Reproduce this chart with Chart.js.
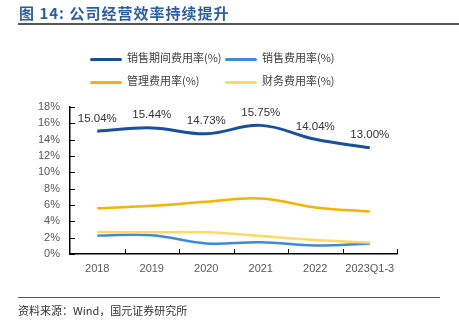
<!DOCTYPE html>
<html>
<head>
<meta charset="utf-8">
<script src="https://cdn.jsdelivr.net/npm/chart.js@4.4.0/dist/chart.umd.min.js"></script>
<style>
  html, body { margin: 0; padding: 0; background: #fff; }
  #wrap { position: relative; width: 459px; height: 324px; overflow: hidden; font-family: "Noto Sans CJK SC", sans-serif; }
  #title { position: absolute; left: 19px; top: 2px; font-size: 15px; font-weight: bold; color: #2a5ea8; letter-spacing: 1px; white-space: nowrap; }
  #topRule { position: absolute; left: 18px; right: 0; top: 23px; height: 2px; background: #555; }
  #bottomRule { position: absolute; left: 18px; width: 422px; top: 297px; height: 1px; background: #555; }
  #source { position: absolute; left: 18px; top: 302px; font-size: 11px; color: #333; white-space: nowrap; }
  .leg { position: absolute; font-size: 11px; color: #404040; white-space: nowrap; line-height: 14px; }
  .leg i { display: inline-block; width: 32px; height: 3px; vertical-align: middle; margin-right: 5px; border-radius: 2px; }
  canvas { position: absolute; left: 0; top: 0; }
</style>
</head>
<body>
<div id="wrap">
  <canvas id="effChart" width="459" height="324"></canvas>
  <div id="title">图 14:  公司经营效率持续提升</div>
  <div id="topRule"></div>
  <div id="legend"></div>
  <div id="bottomRule"></div>
  <div id="source">资料来源：Wind，国元证券研究所</div>
</div>
<script>
  var years = ['2018', '2019', '2020', '2021', '2022', '2023Q1-3'];
  var periodRate = [15.04, 15.44, 14.73, 15.75, 14.04, 13.00];
  var salesRate = [2.25, 2.3, 1.3, 1.45, 1.05, 1.3];
  var adminRate = [5.6, 5.9, 6.4, 6.8, 5.7, 5.2];
  var financeRate = [2.7, 2.65, 2.65, 2.2, 1.7, 1.4];
  var yTicks = [0, 2, 4, 6, 8, 10, 12, 14, 16, 18];

  var series = [
    { label: '销售期间费用率(%)', data: periodRate, color: '#1b4f9c', width: 3, x: 90, y: 50 },
    { label: '销售费用率(%)', data: salesRate, color: '#3f89d6', width: 2.5, x: 225, y: 50 },
    { label: '管理费用率(%)', data: adminRate, color: '#f4b400', width: 2.5, x: 90, y: 73 },
    { label: '财务费用率(%)', data: financeRate, color: '#ffd966', width: 2.5, x: 225, y: 73 }
  ];

  // legend in two rows
  var legendBox = document.getElementById('legend');
  series.forEach(function (s) {
    var d = document.createElement('div');
    d.className = 'leg';
    d.style.left = s.x + 'px';
    d.style.top = s.y + 'px';
    d.innerHTML = '<i style="background:' + s.color + '"></i>' + s.label;
    legendBox.appendChild(d);
  });

  // datasets go in reverse so the main line is drawn on top
  var datasets = series.map(function (s) {
    return {
      label: s.label,
      data: s.data,
      borderColor: s.color,
      backgroundColor: s.color,
      borderWidth: s.width,
      pointRadius: 0,
      tension: 0.4,
      fill: false
    };
  }).reverse();
  var mainIndex = datasets.length - 1;

  // inward tick marks on both axes
  var innerTicks = {
    id: 'innerTicks',
    afterDraw: function (chart) {
      var c = chart.ctx, xs = chart.scales.x, ys = chart.scales.y;
      c.save();
      c.strokeStyle = '#000';
      c.lineWidth = 1;
      c.beginPath();
      ys.ticks.forEach(function (t, i) {
        var py = Math.round(ys.getPixelForTick(i)) + 0.5;
        c.moveTo(ys.right, py);
        c.lineTo(ys.right + 5, py);
      });
      for (var i = 0; i < years.length; i++) {
        var px = i < years.length - 1
          ? (xs.getPixelForValue(i) + xs.getPixelForValue(i + 1)) / 2
          : xs.right;
        px = Math.round(px) + 0.5;
        c.moveTo(px, xs.top);
        c.lineTo(px, xs.top - 5);
      }
      c.stroke();
      c.restore();
    }
  };

  // value labels above the main line
  var valueLabels = {
    id: 'valueLabels',
    afterDatasetsDraw: function (chart) {
      var c = chart.ctx;
      var meta = chart.getDatasetMeta(mainIndex);
      c.save();
      c.font = '11.5px "Liberation Sans", Arial, sans-serif';
      c.fillStyle = '#333';
      c.textAlign = 'center';
      c.textBaseline = 'bottom';
      meta.data.forEach(function (pt, i) {
        c.fillText(periodRate[i].toFixed(2) + '%', pt.x, pt.y - 7);
      });
      c.restore();
    }
  };

  var ctx = document.getElementById('effChart').getContext('2d');
  var effChart = new Chart(ctx, {
    type: 'line',
    data: { labels: years, datasets: datasets },
    options: {
      responsive: false,
      animation: false,
      layout: { padding: { top: 107, right: 62, bottom: 0, left: 0 } },
      plugins: { legend: { display: false }, tooltip: { enabled: false } },
      scales: {
        x: {
          offset: true,
          grid: { display: false, drawTicks: false },
          border: { display: true, color: '#000', width: 1.5 },
          ticks: { color: '#595959', font: { size: 11, family: '"Liberation Sans", Arial, sans-serif' }, padding: 8, maxRotation: 0 },
          afterFit: function (scale) { scale.height = 70; }
        },
        y: {
          min: 0,
          max: 18,
          afterBuildTicks: function (scale) {
            scale.ticks = yTicks.map(function (v) { return { value: v }; });
          },
          grid: { display: false, drawTicks: false },
          border: { display: true, color: '#000', width: 1.5 },
          ticks: {
            color: '#595959',
            font: { size: 11, family: '"Liberation Sans", Arial, sans-serif' },
            padding: 10,
            callback: function (v) { return v + '%'; }
          },
          afterFit: function (scale) { scale.width = 70; }
        }
      }
    },
    plugins: [innerTicks, valueLabels]
  });
</script>
</body>
</html>
